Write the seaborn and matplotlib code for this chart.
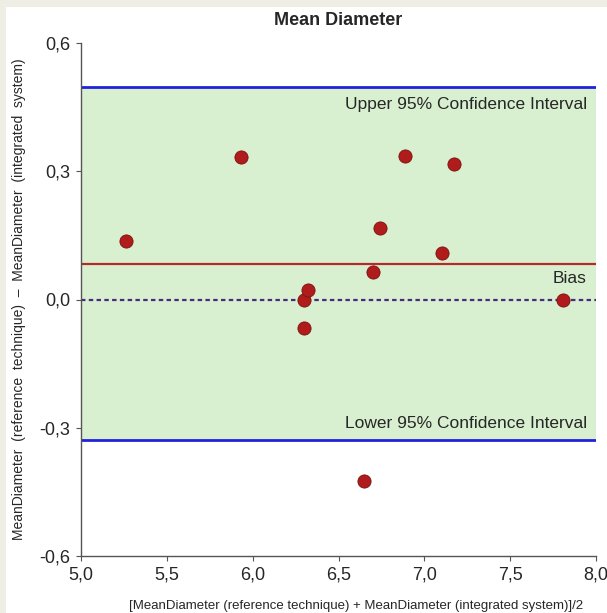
import numpy as np
import pandas as pd
import seaborn as sns
from matplotlib import pyplot as plt
from matplotlib.patches import Rectangle
from matplotlib.ticker import FuncFormatter

# Bland-Altman data
mean_diam = [5.26, 5.93, 6.30, 6.32, 6.30, 6.70, 6.74, 6.89, 7.17, 7.10, 7.81, 6.65]
diff_diam = [0.137, 0.333, 0.000, 0.023, -0.067, 0.064, 0.168, 0.335, 0.318, 0.108, -0.002, -0.425]
bias = 0.083
upper_ci = 0.497
lower_ci = -0.329
x_ticks = [5.0, 5.5, 6.0, 6.5, 7.0, 7.5, 8.0]
y_ticks = [-0.6, -0.3, 0.0, 0.3, 0.6]

df = pd.DataFrame({'mean': mean_diam, 'diff': diff_diam})

sns.set_style('white')
plt.rcParams['font.family'] = ['Liberation Sans', 'DejaVu Sans']

fig = plt.figure(figsize=(6.07, 6.13), dpi=100, facecolor='#eeeee4')
fig.patches.append(Rectangle((6 / 607, 0), 1, 1 - 7 / 613, transform=fig.transFigure,
                             facecolor='white', edgecolor='none', zorder=-10))
ax = fig.add_axes([81 / 607, 1 - 556 / 613, 515 / 607, 513 / 613])
ax.set_facecolor('none')

ax.axhspan(lower_ci, upper_ci, color='#d8f0d0', zorder=0, lw=0)
ax.axhline(upper_ci, color='#2222dd', lw=2, zorder=1)
ax.axhline(lower_ci, color='#2222dd', lw=2, zorder=1)
ax.axhline(bias, color='#b52a2a', lw=1.6, zorder=1)
ax.axhline(0, color='#4a2a80', lw=1.6, ls=(0, (2, 1.5)), zorder=1)

sns.scatterplot(data=df, x='mean', y='diff', ax=ax, s=90, color='#b01c1c',
                edgecolor='#7a1010', linewidth=0.6, zorder=3, legend=False)

ax.text(7.947, upper_ci - 0.04, 'Upper 95% Confidence Interval', ha='right', va='center', fontsize=12.5)
ax.text(7.947, lower_ci + 0.04, 'Lower 95% Confidence Interval', ha='right', va='center', fontsize=12.5)
ax.text(7.947, bias - 0.035, 'Bias', ha='right', va='center', fontsize=12.5)

ax.set_xlim(5.0, 8.0)
ax.set_ylim(-0.6, 0.6)
ax.set_xticks(x_ticks)
ax.set_yticks(y_ticks)
comma = FuncFormatter(lambda v, p: ('%.1f' % v).replace('.', ','))
ax.xaxis.set_major_formatter(comma)
ax.yaxis.set_major_formatter(comma)
ax.tick_params(axis='both', direction='out', length=3.6, width=0.8, color='#555555',
               labelsize=13, pad=4, bottom=True, left=True)

sns.despine(ax=ax, top=True, right=True)
for s in ['left', 'bottom']:
    ax.spines[s].set_color('#555555')
    ax.spines[s].set_linewidth(1.0)

ax.set_title('Mean Diameter', fontsize=13, fontweight='bold', pad=13)
ax.set_xlabel('[MeanDiameter (reference technique) + MeanDiameter (integrated system)]/2',
              fontsize=9.5, labelpad=12)
ax.xaxis.set_label_coords(0.534, -0.085)
ax.set_ylabel('MeanDiameter  (reference  technique)  \u2013  MeanDiameter  (integrated  system)',
              fontsize=10, labelpad=10)

fig.savefig('out.png', dpi=100, facecolor=fig.get_facecolor())
